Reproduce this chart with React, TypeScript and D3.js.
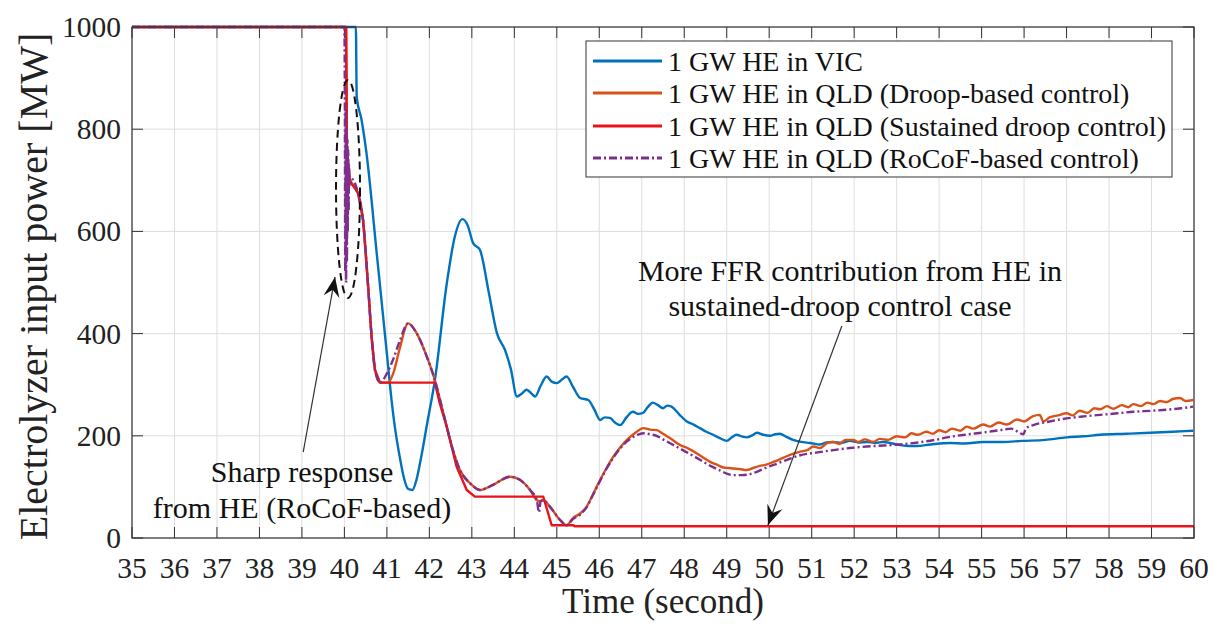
import React from "react";
import * as d3 from "d3";

// ---------- axis ticks ----------
const xTicks = [35, 36, 37, 38, 39, 40, 41, 42, 43, 44, 45, 46, 47, 48, 49, 50, 51, 52, 53, 54, 55, 56, 57, 58, 59, 60];
const yTicks = [0, 200, 400, 600, 800, 1000];

// ---------- series: 1 GW HE in VIC ----------
const vicT = [35, 40.27, 40.29, 40.4, 40.52, 40.76, 41.0, 41.11, 41.2, 41.3, 41.4, 41.5, 41.6, 41.7, 41.8, 41.95, 42.13, 42.41, 42.6, 42.78, 42.9, 43.03, 43.19, 43.4, 43.59, 43.78, 43.92, 44.06, 44.18, 44.29, 44.4, 44.49, 44.62, 44.76, 44.88, 45.0, 45.12, 45.23, 45.38, 45.55, 45.74, 45.88, 46.02, 46.13, 46.25, 46.37, 46.49, 46.64, 46.79, 46.91, 47.03, 47.14, 47.26, 47.38, 47.5, 47.6, 47.7, 47.88, 48.06, 48.22, 48.37, 48.52, 48.68, 48.85, 49.0, 49.12, 49.23, 49.35, 49.47, 49.6, 49.71, 49.86, 50.02, 50.14, 50.25, 50.4, 50.56, 50.75, 50.96, 51.2, 51.35, 51.5, 51.7, 51.9, 52.1, 52.3, 52.5, 52.68, 52.9, 53.08, 53.3, 53.47, 53.8, 54.26, 54.6, 55.03, 55.5, 55.94, 56.5, 57.0, 57.4, 57.79, 58.4, 58.96, 59.5, 59.98];
const vicV = [1000, 1000, 863, 820, 753, 558, 361, 270, 210, 160, 118, 96, 94, 115, 155, 225, 309, 498, 590, 624, 612, 577, 564, 480, 401, 368, 330, 277, 283, 290, 283, 277, 298, 316, 306, 303, 310, 316, 296, 274, 270, 252, 231, 236, 235, 226, 221, 236, 247, 243, 245, 256, 265, 260, 254, 259, 257, 242, 228, 222, 215, 208, 202, 195, 190, 197, 202, 199, 197, 201, 206, 202, 200, 203, 204, 198, 192, 188, 186, 183, 187, 188, 186, 190, 187, 188, 186, 188, 185, 182, 180, 180, 183, 186, 185, 188, 188, 190, 192, 197, 199, 202, 204, 206, 208, 210];

// ---------- series: 1 GW HE in QLD (Droop-based control) ----------
const droopT = [35, 40.04, 40.06, 40.13, 40.32, 40.44, 40.56, 40.64, 40.72, 40.84, 41.03, 41.15, 41.3, 41.5, 41.7, 41.94, 42.13, 42.33, 42.53, 42.72, 42.96, 43.19, 43.5, 43.9, 44.13, 44.37, 44.53, 44.6, 44.68, 44.84, 45.08, 45.23, 45.38, 45.55, 45.7, 45.85, 46.02, 46.18, 46.33, 46.5, 46.65, 46.85, 47.04, 47.2, 47.35, 47.5, 47.67, 47.9, 48.1, 48.29, 48.45, 48.61, 48.78, 48.92, 49.05, 49.16, 49.3, 49.47, 49.62, 49.78, 49.95, 50.1, 50.25, 50.41, 50.57, 50.73, 50.9, 51.04, 51.2, 51.35, 51.51, 51.65, 51.8, 51.98, 52.1, 52.25, 52.45, 52.6, 52.8, 53.0, 53.2, 53.35, 53.5, 53.7, 53.85, 54.0, 54.15, 54.3, 54.5, 54.65, 54.8, 55.04, 55.2, 55.4, 55.6, 55.83, 56.0, 56.2, 56.37, 56.45, 56.6, 56.8, 57.0, 57.15, 57.3, 57.5, 57.65, 57.79, 57.95, 58.1, 58.3, 58.45, 58.57, 58.75, 58.9, 59.05, 59.2, 59.36, 59.5, 59.67, 59.8, 59.98];
const droopV = [1000, 1000, 760, 700, 675, 622, 491, 394, 329, 304, 304, 322, 370, 420, 401, 355, 309, 244, 179, 133, 107, 94, 104, 120, 114, 94, 74, 72, 74, 61, 35, 25, 39, 48, 61, 85, 114, 138, 159, 178, 192, 206, 215, 212, 211, 204, 195, 182, 175, 166, 157, 149, 143, 138, 137, 136, 135, 133, 137, 141, 144, 149, 154, 160, 165, 169, 172, 179, 176, 185, 188, 184, 192, 192, 188, 193, 188, 194, 192, 199, 197, 205, 202, 208, 204, 211, 207, 214, 210, 218, 214, 222, 218, 226, 222, 232, 228, 238, 241, 228, 236, 240, 244, 240, 249, 245, 254, 252, 258, 253, 260, 256, 262, 258, 265, 262, 268, 266, 272, 274, 268, 270];

// ---------- series: 1 GW HE in QLD (Sustained droop control) ----------
const sustT = [35, 40.04, 40.06, 40.13, 40.32, 40.44, 40.56, 40.64, 40.72, 40.84, 42.13, 42.25, 42.41, 42.64, 42.88, 43.07, 44.68, 44.88, 45.39, 45.42, 60];
const sustV = [1000, 1000, 760, 700, 675, 622, 491, 394, 329, 304, 304, 262, 218, 140, 94, 81, 81, 25, 25, 23, 23];

// ---------- series: 1 GW HE in QLD (RoCoF-based control) ----------
const rocofT = [35, 40.0, 40.01, 40.02, 40.03, 40.04, 40.05, 40.06, 40.07, 40.08, 40.09, 40.1, 40.11, 40.12, 40.14, 40.32, 40.44, 40.56, 40.64, 40.72, 40.84, 41.0, 41.15, 41.3, 41.5, 41.7, 41.94, 42.13, 42.33, 42.53, 42.72, 42.96, 43.19, 43.5, 43.9, 44.13, 44.37, 44.53, 44.58, 44.62, 44.68, 44.84, 45.08, 45.23, 45.38, 45.55, 45.7, 45.85, 46.02, 46.18, 46.33, 46.5, 46.65, 46.85, 47.04, 47.2, 47.35, 47.5, 47.7, 47.9, 48.1, 48.37, 48.6, 48.85, 49.0, 49.16, 49.35, 49.55, 49.75, 49.94, 50.2, 50.45, 50.73, 51.1, 51.51, 51.9, 52.3, 52.7, 53.08, 53.5, 53.9, 54.26, 54.7, 55.0, 55.43, 55.7, 55.98, 56.05, 56.22, 56.6, 57.0, 57.4, 57.79, 58.2, 58.57, 59.0, 59.36, 59.7, 59.98];
const rocofV = [1000, 1000, 870, 520, 840, 500, 800, 540, 780, 600, 760, 640, 730, 690, 705, 675, 622, 491, 394, 329, 304, 322, 350, 385, 420, 401, 355, 309, 244, 179, 133, 107, 94, 104, 120, 114, 94, 74, 50, 72, 74, 61, 35, 25, 37, 46, 60, 84, 112, 137, 157, 176, 189, 200, 205, 203, 200, 193, 184, 175, 166, 153, 142, 132, 126, 123, 123, 125, 131, 138, 146, 154, 162, 167, 172, 176, 179, 181, 183, 187, 192, 198, 203, 206, 211, 214, 203, 215, 221, 228, 234, 238, 241, 244, 247, 249, 251, 254, 257];

const seriesNames = [
  "1 GW HE in VIC",
  "1 GW HE in QLD (Droop-based control)",
  "1 GW HE in QLD (Sustained droop control)",
  "1 GW HE in QLD (RoCoF-based control)",
];
const seriesColors = ["#0072BD", "#D95319", "#E8141A", "#7E2F8E"];
const seriesDash = [null, null, null, "8,3,2,3"];
const seriesSmooth = [true, true, false, true];

const W = 1217;
const H = 628;
const LEFT = 132;
const RIGHT = 1194;
const TOP = 27;
const BOTTOM = 538;
const FONT = '"Liberation Serif", "Times New Roman", Times, "DejaVu Serif", serif';

function arrowHead(x0: number, y0: number, x1: number, y1: number) {
  const dx = x1 - x0;
  const dy = y1 - y0;
  const len = Math.sqrt(dx * dx + dy * dy);
  const ux = dx / len;
  const uy = dy / len;
  const nx = -uy;
  const ny = ux;
  const L = 20;
  const w = 8;
  const notch = 7;
  const p1 = [x1 - ux * L + nx * w, y1 - uy * L + ny * w];
  const p2 = [x1 - ux * (L - notch), y1 - uy * (L - notch)];
  const p3 = [x1 - ux * L - nx * w, y1 - uy * L - ny * w];
  return `M${x1},${y1}L${p1[0]},${p1[1]}L${p2[0]},${p2[1]}L${p3[0]},${p3[1]}Z`;
}

export default function App() {
  const x = d3.scaleLinear().domain([35, 60]).range([LEFT, RIGHT]);
  const y = d3.scaleLinear().domain([0, 1000]).range([BOTTOM, TOP]);

  const mk = (ts: number[], vs: number[], smooth: boolean) =>
    d3
      .line<number>()
      .curve(smooth ? d3.curveMonotoneX : d3.curveLinear)
      .x((d) => x(d))
      .y((_, i) => y(vs[i]))(ts) as string;

  const paths = [
    mk(vicT, vicV, seriesSmooth[0]),
    mk(droopT, droopV, seriesSmooth[1]),
    mk(sustT, sustV, seriesSmooth[2]),
    mk(rocofT, rocofV, seriesSmooth[3]),
  ];

  const tickLen = 11;

  // annotation anchors (data coordinates)
  const ell = { cx: x(40.085), cy: y(683), rx: 12, ry: 109 };
  const a1s = [x(39.03), y(168)];
  const a1e = [x(39.78), y(511)];
  const a2s = [x(51.71), y(415)];
  const a2e = [x(49.97), y(25)];

  const legX = 586;
  const legY = 41;
  const legW = 586;
  const legH = 136;
  const rowY = [61, 93, 126, 158];
  const ts = { fontFamily: FONT };

  return (
    <svg
      width={W}
      height={H}
      viewBox={`0 0 ${W} ${H}`}
      style={{ position: "absolute", left: 0, top: 0, background: "#fff", display: "block", fontFamily: FONT }}
    >
      <rect x={0} y={0} width={W} height={H} fill="#fff" />
      <defs>
        <clipPath id="plotclip">
          <rect x={LEFT} y={TOP - 2} width={RIGHT - LEFT} height={BOTTOM - TOP + 4} />
        </clipPath>
      </defs>
      {/* grid */}
      <g stroke="#dedede" strokeWidth={1}>
        {xTicks.map((t) => (
          <line key={"gx" + t} x1={x(t)} x2={x(t)} y1={TOP} y2={BOTTOM} />
        ))}
        {yTicks.map((v) => (
          <line key={"gy" + v} x1={LEFT} x2={RIGHT} y1={y(v)} y2={y(v)} />
        ))}
      </g>
      {/* ticks */}
      <g stroke="#333" strokeWidth={1}>
        {xTicks.map((t) => (
          <g key={"tx" + t}>
            <line x1={x(t)} x2={x(t)} y1={BOTTOM} y2={BOTTOM - tickLen} />
            <line x1={x(t)} x2={x(t)} y1={TOP} y2={TOP + tickLen} />
          </g>
        ))}
        {yTicks.map((v) => (
          <g key={"ty" + v}>
            <line x1={LEFT} x2={LEFT + tickLen} y1={y(v)} y2={y(v)} />
            <line x1={RIGHT} x2={RIGHT - tickLen} y1={y(v)} y2={y(v)} />
          </g>
        ))}
      </g>
      {/* series */}
      <g clipPath="url(#plotclip)" fill="none" strokeLinejoin="round">
        {paths.map((p, i) => (
          <path
            key={"s" + i}
            d={p}
            stroke={seriesColors[i]}
            strokeWidth={2.4}
            strokeDasharray={seriesDash[i] || undefined}
          />
        ))}
      </g>
      {/* box */}
      <rect x={LEFT} y={TOP} width={RIGHT - LEFT} height={BOTTOM - TOP} fill="none" stroke="#333" strokeWidth={1.2} />
      {/* tick labels */}
      <g fontSize={29.5} fill="#222" style={ts}>
        {xTicks.map((t) => (
          <text key={"lx" + t} x={x(t)} y={578} textAnchor="middle" style={ts}>
            {t}
          </text>
        ))}
        {yTicks.map((v) => (
          <text key={"ly" + v} x={121} y={y(v) + 10} textAnchor="end" style={ts}>
            {v}
          </text>
        ))}
      </g>
      {/* axis titles */}
      <text x={(LEFT + RIGHT) / 2} y={613} textAnchor="middle" fontSize={35} fill="#222" style={ts}>
        Time (second)
      </text>
      <text
        transform={`translate(47, ${(TOP + BOTTOM) / 2 + 4}) rotate(-90)`}
        textAnchor="middle"
        fontSize={40}
        fill="#222"
        style={ts}
      >
        Electrolyzer input power [MW]
      </text>
      {/* annotations */}
      <ellipse
        cx={ell.cx}
        cy={ell.cy}
        rx={ell.rx}
        ry={ell.ry}
        fill="none"
        stroke="#111"
        strokeWidth={2}
        strokeDasharray="8,5"
      />
      <line x1={a1s[0]} y1={a1s[1]} x2={a1e[0]} y2={a1e[1]} stroke="#333" strokeWidth={1.2} />
      <path d={arrowHead(a1s[0], a1s[1], a1e[0], a1e[1])} fill="#111" />
      <line x1={a2s[0]} y1={a2s[1]} x2={a2e[0]} y2={a2e[1]} stroke="#333" strokeWidth={1.2} />
      <path d={arrowHead(a2s[0], a2s[1], a2e[0], a2e[1])} fill="#111" />
      <g fontSize={30} fill="#111" textAnchor="middle" style={ts}>
        <text x={302} y={482} style={ts}>Sharp response</text>
        <text x={302} y={518} style={ts}>from HE (RoCoF-based)</text>
        <text x={850} y={281} style={ts}>More FFR contribution from HE in</text>
        <text x={840} y={316} style={ts}>sustained-droop control case</text>
      </g>
      {/* legend */}
      <rect x={legX} y={legY} width={legW} height={legH} fill="#fff" stroke="#333" strokeWidth={1} />
      {seriesNames.map((name, i) => (
        <g key={"lg" + i}>
          <line
            x1={593}
            x2={662}
            y1={rowY[i]}
            y2={rowY[i]}
            stroke={seriesColors[i]}
            strokeWidth={3}
            strokeDasharray={seriesDash[i] || undefined}
          />
          <text x={668} y={rowY[i] + 10} fontSize={28} fill="#111" style={ts}>
            {name}
          </text>
        </g>
      ))}
    </svg>
  );
}
